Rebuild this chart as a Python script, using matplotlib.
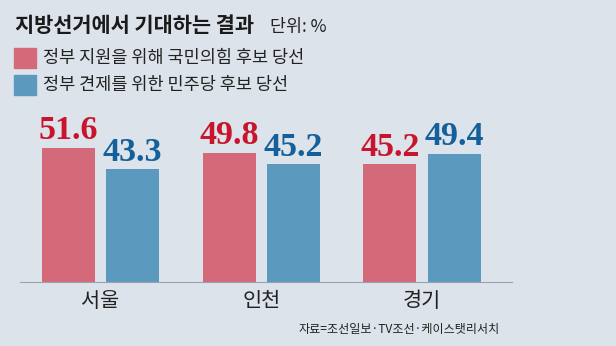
import numpy as np
import matplotlib.pyplot as plt

# --------------------------------------------------
# Data
# --------------------------------------------------

regions = ["서울", "인천", "경기"]
ppp_win = [51.6, 49.8, 45.2]   # 정부 지원을 위해 국민의힘 후보 당선
dem_win = [43.3, 45.2, 49.4]   # 정부 견제를 위한 민주당 후보 당선

legend_labels = ["정부 지원을 위해 국민의힘 후보 당선", "정부 견제를 위한 민주당 후보 당선"]
title = "지방선거에서 기대하는 결과"
unit = "단위: %"
source = "자료=조선일보·TV조선·케이스탯리서치"

# --------------------------------------------------
# Style
# --------------------------------------------------

bg = "#dde3ea"
bar_red = "#d46a79"
bar_blue = "#5b9abe"
txt_red = "#c8152d"
txt_blue = "#14609a"
kfont = ["Noto Sans CJK KR", "DejaVu Sans"]

plt.rcParams["font.family"] = kfont

W, H = 616, 346
fig = plt.figure(figsize=(W / 100, H / 100), dpi=100)
fig.patch.set_facecolor(bg)

# axes placed in pixel terms: baseline at y=282, x from 20 to 512
ax = fig.add_axes([20 / W, (H - 282) / H, (512 - 20) / W, (282 - 100) / H])
ax.set_facecolor(bg)

x = np.arange(len(regions))
w = 0.33
off = 0.2

b1 = ax.bar(x - off, ppp_win, w, color=bar_red)
b2 = ax.bar(x + off, dem_win, w, color=bar_blue)

for bars, vals, c in [(b1, ppp_win, txt_red), (b2, dem_win, txt_blue)]:
    for b, v in zip(bars, vals):
        ax.annotate(f"{v:.1f}", (b.get_x() + b.get_width() / 2, v),
                    xytext=(0, 1), textcoords="offset points",
                    ha="center", va="bottom", color=c,
                    fontsize=24.5, fontweight="bold", family="Liberation Serif")

ax.set_xlim(-0.5, 2.559)
ax.set_ylim(0, 70)
ax.set_xticks(x)
ax.set_xticklabels(regions, fontsize=15, color="#222222")
ax.tick_params(axis="x", length=0, pad=6)
ax.set_yticks([])
for s in ["top", "left", "right"]:
    ax.spines[s].set_visible(False)
ax.spines["bottom"].set_color("#9aa3ad")
ax.spines["bottom"].set_linewidth(0.8)

# --------------------------------------------------
# Title, legend, source
# --------------------------------------------------

fig.text(15 / W, 1 - 26 / H, title, fontsize=15, fontweight="heavy",
         color="#1a1a1a", va="center", ha="left")
fig.text(270 / W, 1 - 27 / H, unit, fontsize=12.5, color="#222222",
         va="center", ha="left")

for i, (lab, c) in enumerate(zip(legend_labels, [bar_red, bar_blue])):
    y0 = 48 + i * 27
    fig.patches.append(plt.Rectangle((14 / W, 1 - (y0 + 20) / H), 22 / W, 20 / H,
                                     transform=fig.transFigure, color=c))
    fig.text(43 / W, 1 - (y0 + 10) / H, lab, fontsize=12.6, color="#222222",
             va="center", ha="left")

fig.text(500 / W, 1 - 329 / H, source, fontsize=8.7, color="#222222",
         va="center", ha="right")

fig.savefig("out.png", dpi=100, facecolor=bg)
